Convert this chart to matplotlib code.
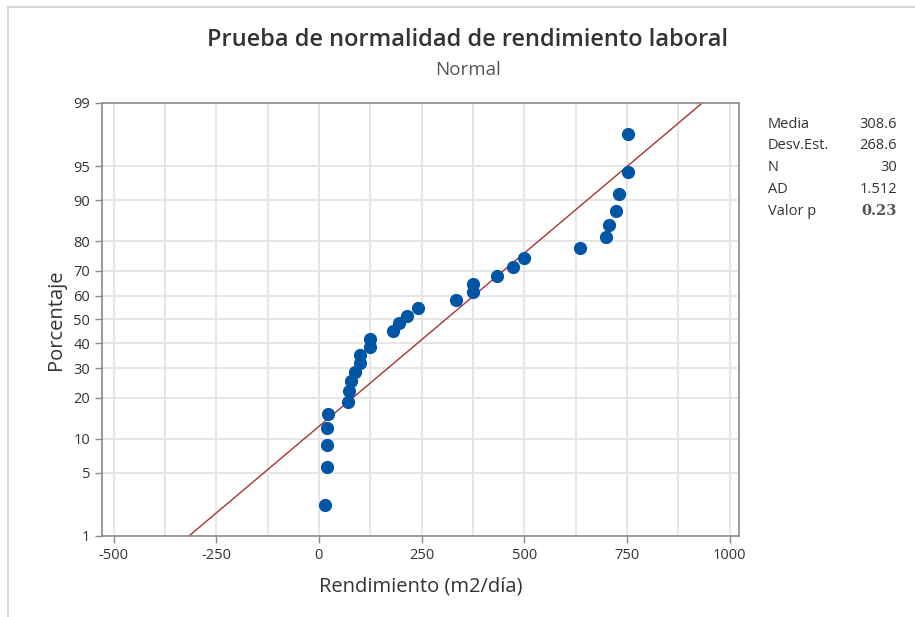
import matplotlib
matplotlib.use('Agg')
import matplotlib.pyplot as plt
from matplotlib.lines import Line2D
from statistics import NormalDist
import numpy as np

plt.rcParams['font.family'] = ['Open Sans', 'DejaVu Sans']

# values (m2/dia), sorted
rendimiento = [15, 19, 19, 19, 23, 70, 73, 77, 89, 100,
               100, 124, 124, 180, 194, 214, 242, 335, 375, 375,
               434, 472, 500, 636, 699, 707, 724, 730, 753, 753]
pct_ticks = [1, 5, 10, 20, 30, 40, 50, 60, 70, 80, 90, 95, 99]
x_ticks = [-500, -250, 0, 250, 500, 750, 1000]
stat_names = ['Media', 'Desv.Est.', 'N', 'AD', 'Valor p']
stat_values = ['308.6', '268.6', '30', '1.512', '0.23']
media = 308.6
desv = 268.6

nd = NormalDist()
n = len(rendimiento)
# median rank plotting positions (as minitab does)
pos = [(i - 0.3) / (n + 0.4) for i in range(1, n + 1)]
z_pts = [nd.inv_cdf(p) for p in pos]

fig = plt.figure(figsize=(9.15, 6.17), dpi=100)
ax = fig.add_axes([0.1115, 0.1313, 0.6962, 0.7018])

zlo, zhi = nd.inv_cdf(0.01), nd.inv_cdf(0.99)
ax.set_ylim(zlo, zhi)
ax.set_xlim(-528, 1023)

# grid every 125, ticks every 250
for gx in np.arange(-500, 1001, 125):
    ax.axvline(gx, color='#e6e6e6', lw=1.4, zorder=0)
for p in pct_ticks:
    ax.axhline(nd.inv_cdf(p / 100), color='#e6e6e6', lw=1.4, zorder=0)

# fitted line
zl = np.array([zlo, zhi])
ax.plot(media + desv * zl, zl, color='#a83232', lw=1.0, zorder=2)

ax.plot(rendimiento, z_pts, 'o', color='#0055a5', markersize=8.5, zorder=3)

ax.set_yticks([nd.inv_cdf(p / 100) for p in pct_ticks])
ax.set_yticklabels([str(p) for p in pct_ticks])
ax.set_xticks(x_ticks)
ax.set_xticklabels([str(v) for v in x_ticks])
ax.tick_params(colors='#8a8a8a', labelcolor='#333333', labelsize=10.5, length=5, width=1)
for s in ax.spines.values():
    s.set_color('#8a8a8a')
    s.set_linewidth(1.2)

ax.set_xlabel('Rendimiento (m2/día)', fontsize=14.5, color='#333333', labelpad=10)
ax.set_ylabel('Porcentaje', fontsize=14.5, color='#333333', labelpad=5)

fig.text(0.511, 0.935, 'Prueba de normalidad de rendimiento laboral',
         ha='center', va='center', fontsize=17, fontweight='semibold', color='#333333')
fig.text(0.511, 0.887, 'Normal', ha='center', va='center', fontsize=13.5, color='#555555')

# stats box
for k, (nm, val) in enumerate(zip(stat_names, stat_values)):
    yy = 1 - (124 + k * 21.8) / 617
    fig.text(768 / 915, yy, nm, ha='left', va='center', fontsize=10.5, color='#333333')
    if nm == 'Valor p':
        fig.text(897 / 915, yy, val, ha='right', va='center', fontsize=10.5,
                 color='#555555', fontweight='bold', family='DejaVu Serif')
    else:
        fig.text(897 / 915, yy, val, ha='right', va='center', fontsize=10.5, color='#333333')

# outer frame lines (top and left)
fig.add_artist(Line2D([8 / 915, 1], [1 - 7 / 617, 1 - 7 / 617], color='#d9d9d9', lw=1.5))
fig.add_artist(Line2D([8 / 915, 8 / 915], [0, 1 - 7 / 617], color='#d9d9d9', lw=1.5))

fig.savefig('out.png', dpi=100)
